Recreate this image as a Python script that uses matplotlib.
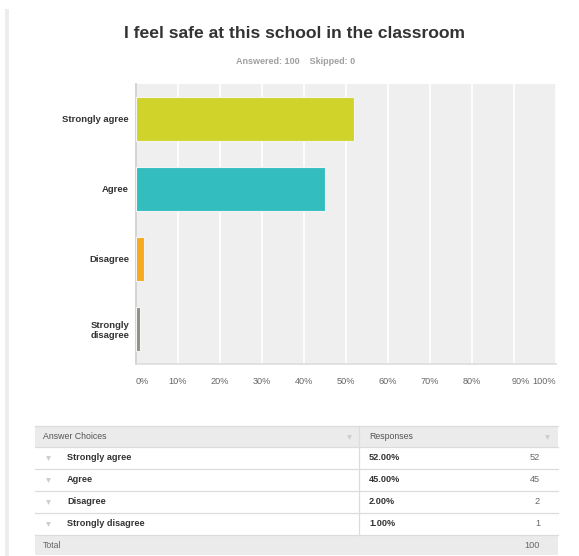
import matplotlib
matplotlib.use('Agg')
import matplotlib.pyplot as plt
from matplotlib.patches import Rectangle
from matplotlib.transforms import ScaledTranslation

plt.rcParams['font.family'] = ['Liberation Sans', 'DejaVu Sans']

# data
choices = ['Strongly agree', 'Agree', 'Disagree', 'Strongly disagree']
axis_labels = ['Strongly agree', 'Agree', 'Disagree', 'Strongly\ndisagree']
percents = [52.0, 45.0, 2.0, 1.0]
counts = [52, 45, 2, 1]
total = 100
skipped = 0
bar_colors = ['#d0d42a', '#33bdbf', '#f7a920', '#8f8f82']
xticks = [0, 10, 20, 30, 40, 50, 60, 70, 80, 90, 100]

W, H = 579, 556
fig = plt.figure(figsize=(W / 100, H / 100), dpi=100)

# background layer in pixel coords
bg = fig.add_axes([0, 0, 1, 1])
bg.set_xlim(0, W)
bg.set_ylim(H, 0)
bg.axis('off')
bg.add_patch(Rectangle((5, 9), 4, H - 9, color='#ededed', lw=0))

bg.text(294, 34, 'I feel safe at this school in the classroom', ha='center', va='center',
        fontsize=12.6, fontweight='bold', color='#333333')
bg.text(296, 61, 'Answered: %d    Skipped: %d' % (total, skipped), ha='center', va='center',
        fontsize=6.5, fontweight='bold', color='#a0a0a0')

# bar chart
x0, x1, y0, y1 = 136, 556, 84, 364
ax = fig.add_axes([x0 / W, 1 - y1 / H, (x1 - x0) / W, (y1 - y0) / H])
ax.set_facecolor('#efefef')
ypos = list(range(len(choices)))
ax.barh(ypos, percents, height=0.63, color=bar_colors, edgecolor='#f4f4f4', linewidth=0.8, zorder=3)
ax.set_xlim(0, 100)
ax.set_ylim(3.5, -0.5)
ax.set_xticks(xticks)
ax.set_xticklabels(['%d%%' % t for t in xticks], fontsize=6.6, color='#666666')
ax.grid(axis='x', color='white', linewidth=1.2, zorder=1)
ax.set_yticks(ypos)
ax.set_yticklabels(axis_labels, fontsize=6.8, fontweight='bold', color='#333333', linespacing=1.1)
ax.tick_params(length=0, pad=5)
ax.tick_params(axis='x', pad=9)
for s in ['top', 'right']:
    ax.spines[s].set_visible(False)
ax.spines['left'].set_color('#cccccc')
ax.spines['bottom'].set_color('#dddddd')
ax.spines['left'].set_linewidth(1.2)
ax.spines['bottom'].set_linewidth(1.2)
xl = ax.get_xticklabels()
xl[0].set_ha('left')
xl[-1].set_ha('right')
xl[-2].set_transform(xl[-2].get_transform() + ScaledTranslation(7 / 100, 0, fig.dpi_scale_trans))

# table
tl, tr, tdiv = 35, 558, 359
rows_y = [426, 447, 469, 491, 513, 535, 555]
bg.add_patch(Rectangle((tl, rows_y[0]), tr - tl, rows_y[1] - rows_y[0], color='#ebebeb', lw=0))
bg.add_patch(Rectangle((tl, rows_y[5]), tr - tl, rows_y[6] - rows_y[5], color='#ebebeb', lw=0))
for yy in rows_y[:6]:
    bg.plot([tl, tr], [yy, yy], color='#dcdcdc', lw=0.9)
bg.plot([tdiv, tdiv], [rows_y[0], rows_y[5]], color='#dcdcdc', lw=0.9)

hy = (rows_y[0] + rows_y[1]) / 2
bg.text(43, hy, 'Answer Choices', ha='left', va='center', fontsize=6.3, color='#555555')
bg.text(369, hy, 'Responses', ha='left', va='center', fontsize=6.3, color='#555555')
bg.plot([349, 547], [hy, hy], ls='none', marker='v', ms=3.5, color='#cccccc', mec='none')

for i, name in enumerate(choices):
    cy = (rows_y[i + 1] + rows_y[i + 2]) / 2
    bg.plot(48, cy, marker='v', ms=3.5, color='#cccccc', mec='none')
    bg.text(67, cy, name, ha='left', va='center', fontsize=6.6, fontweight='bold', color='#333333')
    bg.text(369, cy, '%.2f%%' % percents[i], ha='left', va='center', fontsize=6.6,
            fontweight='bold', color='#333333')
    bg.text(540, cy, str(counts[i]), ha='right', va='center', fontsize=6.6, color='#666666')

ty = (rows_y[5] + rows_y[6]) / 2
bg.text(43, ty, 'Total', ha='left', va='center', fontsize=6.3, color='#666666')
bg.text(540, ty, str(total), ha='right', va='center', fontsize=6.6, color='#666666')

fig.savefig('out.png', dpi=100)
